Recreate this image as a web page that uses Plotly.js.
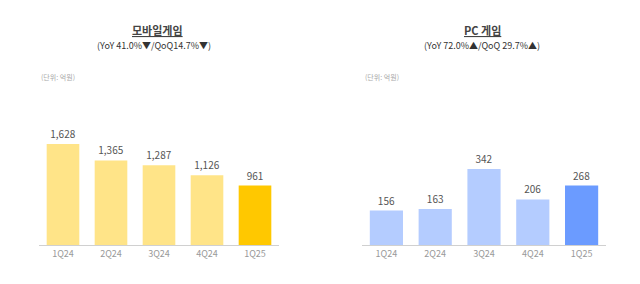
<!DOCTYPE html>
<html><head><meta charset="utf-8">
<script src="https://cdn.plot.ly/plotly-3.0.1.min.js"></script>
<style>html,body{margin:0;padding:0;background:#fff}#c{width:640px;height:284px}</style>
</head><body><div id="c"></div>
<script>
const quarters = ['1Q24','2Q24','3Q24','4Q24','1Q25'];
const mobileValues = [1628, 1365, 1287, 1126, 961];
const pcValues = [156, 163, 342, 206, 268];
const mobileColors = ['#FFE488','#FFE488','#FFE488','#FFE488','#FFC800'];
const pcColors = ['#B4CCFF','#B4CCFF','#B4CCFF','#B4CCFF','#6B9BFF'];
const mobileTitle = '모바일게임';
const mobileSub = '(YoY 41.0%▼/QoQ14.7%▼)';
const pcTitle = 'PC 게임';
const pcSub = '(YoY 72.0%▲/QoQ 29.7%▲)';
const unitLabel = '(단위: 억원)';

const F = 'Noto Sans CJK KR, Noto Sans, sans-serif';
const bar = (x, y, colors, xa, ya) => ({
  type: 'bar', x, y, xaxis: xa, yaxis: ya,
  marker: {color: colors},
  texttemplate: '%{y:,}', textposition: 'outside', cliponaxis: false,
  textfont: {family: F, size: 10, color: '#555'},
  hoverinfo: 'skip'
});
const xax = (dom) => ({
  domain: dom, range: [-0.5, 4.5], showgrid: false, zeroline: false,
  showline: true, linecolor: '#d0d0d0', linewidth: 1, ticks: '',
  tickfont: {family: F, size: 9, color: '#999'}, fixedrange: true
});
const yax = (rng) => ({
  domain: [0.1356, 0.5775], range: rng, visible: false, fixedrange: true
});
const ann = (x, y, text, size, color) => ({
  xref: 'paper', yref: 'paper', x: x / 640, y: 1 - y / 284, text,
  showarrow: false, xanchor: 'center', yanchor: 'middle',
  font: {family: F, size, color}
});
const unit = (x, y) => ({
  xref: 'paper', yref: 'paper', x: x / 640, y: 1 - y / 284, text: unitLabel,
  showarrow: false, xanchor: 'left', yanchor: 'middle',
  font: {family: F, size: 7, color: '#aaa'}
});

const data = [
  bar(quarters, mobileValues, mobileColors, 'x', 'y'),
  bar(quarters, pcValues, pcColors, 'x2', 'y2')
];
const layout = {
  width: 640, height: 284, margin: {l: 0, r: 0, t: 0, b: 0},
  paper_bgcolor: '#fff', plot_bgcolor: '#fff', showlegend: false,
  bargap: 0.32,
  xaxis: xax([39/640, 279/640]), yaxis: yax([0, 2014]),
  xaxis2: xax([362/640, 606/640]), yaxis2: yax([0, 561]),
  annotations: [
    ann(157, 30, '<b><u>' + mobileTitle + '</u></b>', 11, '#444'),
    ann(154, 45, mobileSub, 9, '#333'),
    ann(482, 30, '<b><u>' + pcTitle + '</u></b>', 11, '#444'),
    ann(482, 45, pcSub, 9, '#333'),
    unit(39, 77), unit(363, 77)
  ]
};
Plotly.newPlot('c', data, layout, {staticPlot: true, displayModeBar: false});
</script></body></html>
